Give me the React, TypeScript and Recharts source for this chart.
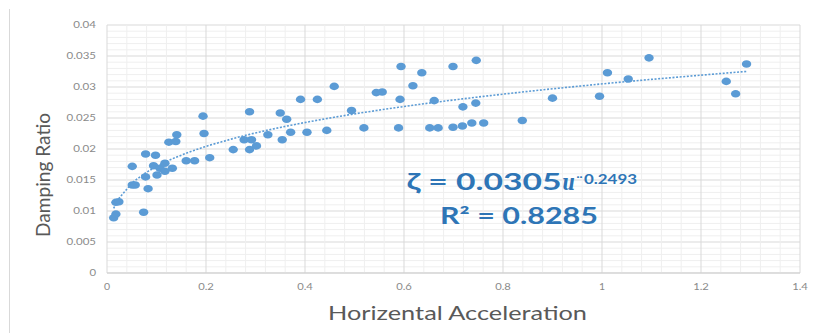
import React from "react";
import {
  ScatterChart,
  Scatter,
  XAxis,
  YAxis,
  CartesianGrid,
  Label,
} from "recharts";

// horizontal acceleration (x) and damping ratio (y)
const accel = [
  0.0135, 0.018, 0.018, 0.024, 0.074, 0.051, 0.057, 0.083, 0.078, 0.051,
  0.078, 0.098, 0.094, 0.107, 0.117, 0.101, 0.132, 0.117, 0.16, 0.177,
  0.2075, 0.125, 0.139, 0.141, 0.196, 0.194, 0.255, 0.288, 0.277, 0.292,
  0.302, 0.288, 0.35, 0.363, 0.391, 0.425, 0.459, 0.494, 0.544, 0.556,
  0.592, 0.594, 0.636, 0.618, 0.661, 0.325, 0.354, 0.371, 0.404, 0.444,
  0.519, 0.589, 0.652, 0.669, 0.699, 0.746, 0.719, 0.745, 0.699, 0.718,
  0.737, 0.761, 0.839, 0.9, 0.995, 1.011, 1.053, 1.095, 1.251, 1.27, 1.292,
];
const damping = [
  0.0089, 0.0095, 0.0114, 0.0115, 0.0098, 0.0142, 0.0142, 0.0136, 0.0155, 0.0172,
  0.0192, 0.019, 0.0173, 0.0169, 0.0164, 0.0158, 0.0169, 0.0177, 0.0181, 0.0181,
  0.0186, 0.0211, 0.0212, 0.0223, 0.0225, 0.0253, 0.0199, 0.0199, 0.0215, 0.0215,
  0.0205, 0.026, 0.0258, 0.0248, 0.028, 0.028, 0.0301, 0.0262, 0.0291, 0.0292,
  0.028, 0.0333, 0.0323, 0.0302, 0.0278, 0.0223, 0.0215, 0.0227, 0.0227, 0.023,
  0.0234, 0.0234, 0.0234, 0.0234, 0.0333, 0.0343, 0.0268, 0.0274, 0.0235, 0.0237,
  0.0242, 0.0242, 0.0246, 0.0282, 0.0285, 0.0323, 0.0313, 0.0347, 0.0309, 0.0289, 0.0337,
];

// fitted power curve shown on the chart
const fitCoef = 0.0305;
const fitExp = 0.2493;

// every 5th minor tick is a labelled major tick
const xTicks = Array.from({ length: 36 }, (_, i) => +(i * 0.04).toFixed(2));
const yTicks = Array.from({ length: 41 }, (_, i) => +(i * 0.001).toFixed(3));

const points = accel.map((x, i) => ({ x, y: damping[i] }));
const trend = [...accel]
  .sort((a, b) => a - b)
  .map((x) => ({ x, y: fitCoef * Math.pow(x, fitExp) }));

const BLUE = "#5b9bd5";
const TEXT_BLUE = "#2e75b6";
const FONT = "Lato, 'Open Sans', sans-serif";

const labelWidth = (s: string) => {
  let w = 0;
  for (const c of s) w += c === "." ? 3 : 6.6;
  return w;
};

const YTick = (p: any) => {
  if (p.index % 5 !== 0) return <g />;
  const s = String(p.payload.value);
  return (
    <text
      x={p.x - 3}
      y={p.y + 3}
      textAnchor="end"
      fontSize={9}
      fontFamily={FONT}
      fill="#8a8a8a"
      textLength={labelWidth(s)}
      lengthAdjust="spacingAndGlyphs"
    >
      {s}
    </text>
  );
};

const XTick = (p: any) => {
  if (p.index % 5 !== 0) return <g />;
  const s = String(p.payload.value);
  return (
    <text
      x={p.x}
      y={p.y + 8.5}
      textAnchor="middle"
      fontSize={9}
      fontFamily={FONT}
      fill="#8a8a8a"
      textLength={labelWidth(s) - 0.5}
      lengthAdjust="spacingAndGlyphs"
    >
      {s}
    </text>
  );
};

const Dot = (p: any) => (
  <ellipse cx={p.cx} cy={p.cy} rx={4.7} ry={3.8} fill={BLUE} />
);

const gridLine = (p: any) => (
  <line
    key={p.key}
    x1={p.x1}
    y1={p.y1}
    x2={p.x2}
    y2={p.y2}
    stroke={p.index % 5 === 0 ? "#d9d9d9" : "#efefef"}
    strokeWidth={1}
  />
);

export default function App() {
  return (
    <div
      style={{
        position: "absolute",
        left: 0,
        top: 0,
        width: 814,
        height: 333,
        background: "#fff",
        overflow: "hidden",
      }}
    >
      <div
        style={{
          position: "absolute",
          left: 9,
          top: 9,
          width: 1,
          height: 324,
          background: "#d9d9d9",
        }}
      />
      <ScatterChart
        width={814}
        height={333}
        margin={{ top: 25, right: 14, bottom: 0, left: 0 }}
      >
        <CartesianGrid horizontal={gridLine} vertical={gridLine} />
        <XAxis
          type="number"
          dataKey="x"
          domain={[0, 1.4]}
          ticks={xTicks}
          interval={0}
          height={60}
          tickLine={false}
          axisLine={{ stroke: "#cfcfcf" }}
          tick={XTick}
          allowDataOverflow
        >
          <Label
            content={(p: any) => {
              const vb = p.viewBox;
              return (
                <text
                  x={vb.x + vb.width / 2 + 4}
                  y={319.5}
                  textAnchor="middle"
                  fontSize={19}
                  fontFamily={FONT}
                  fill="#595959"
                  textLength={259}
                  lengthAdjust="spacingAndGlyphs"
                >
                  Horizental Acceleration
                </text>
              );
            }}
          />
        </XAxis>
        <YAxis
          type="number"
          dataKey="y"
          domain={[0, 0.04]}
          ticks={yTicks}
          interval={0}
          width={107}
          tickLine={false}
          axisLine={false}
          tick={YTick}
          allowDataOverflow
        >
          <Label
            content={() => (
              <text
                x={0}
                y={0}
                transform="translate(50,175) rotate(-90)"
                textAnchor="middle"
                fontSize={19}
                fontFamily={FONT}
                fill="#595959"
                textLength={124}
                lengthAdjust="spacingAndGlyphs"
              >
                Damping Ratio
              </text>
            )}
          />
        </YAxis>
        <Scatter
          data={trend}
          line={{ stroke: BLUE, strokeWidth: 1.6, strokeDasharray: "2 1.6" }}
          lineType="joint"
          shape={() => <g />}
          isAnimationActive={false}
        />
        <Scatter data={points} shape={Dot} isAnimationActive={false} />
      </ScatterChart>
      <svg
        width={814}
        height={333}
        style={{ position: "absolute", left: 0, top: 0, pointerEvents: "none" }}
      >
        <g fill={TEXT_BLUE} fontFamily={FONT} fontWeight="bold">
          <text x={406.5} y={189.5} fontSize={22} textLength={155} lengthAdjust="spacingAndGlyphs">
            ζ = 0.0305
          </text>
          <text
            x={562}
            y={189.5}
            fontSize={22}
            fontFamily="'DejaVu Serif', serif"
            fontStyle="italic"
            fontWeight="bold"
            textLength={13}
            lengthAdjust="spacingAndGlyphs"
          >
            u
          </text>
          <text x={576.5} y={186} fontSize={14} textLength={6} lengthAdjust="spacingAndGlyphs">
            ¨
          </text>
          <text x={584} y={184} fontSize={14} textLength={53} lengthAdjust="spacingAndGlyphs">
            0.2493
          </text>
          <text x={440} y={224} fontSize={22} textLength={158} lengthAdjust="spacingAndGlyphs">
            R² = 0.8285
          </text>
        </g>
      </svg>
    </div>
  );
}
